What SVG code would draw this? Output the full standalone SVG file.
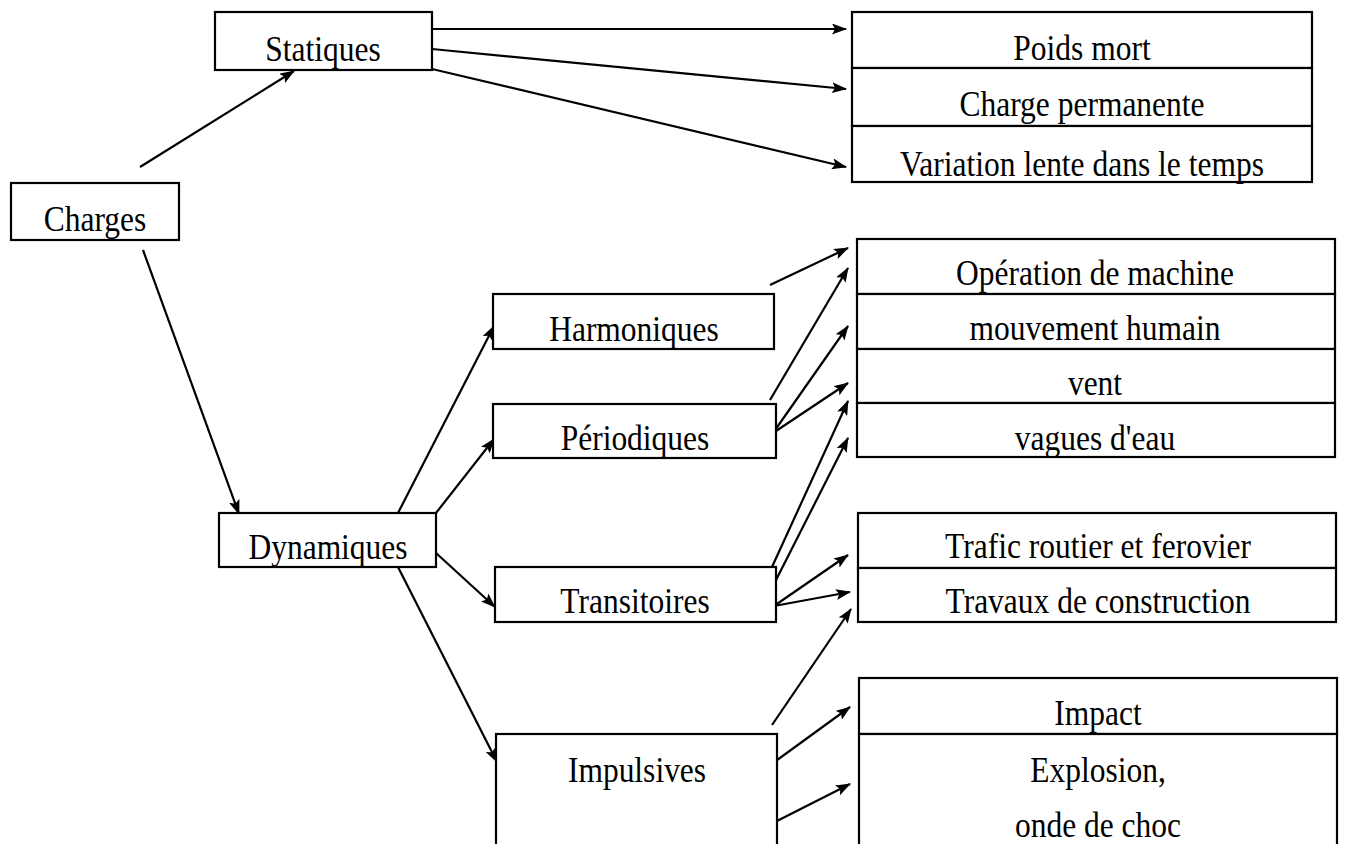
<svg xmlns="http://www.w3.org/2000/svg" width="1346" height="844" viewBox="0 0 1346 844">
<style>
.box{fill:#fff;stroke:#000;stroke-width:2.2}
.t{font-family:"Liberation Serif","Times New Roman",serif;font-size:31.5px;fill:#000;text-anchor:middle}
.c{fill:none;stroke:#000;stroke-width:2.2;marker-end:url(#ah)}
</style>
<defs>
<marker id="ah" markerUnits="userSpaceOnUse" markerWidth="15" markerHeight="11" refX="14" refY="5.5" orient="auto">
<path d="M0,0 L15,5.5 L0,11 L3,5.5 z" fill="#000"/>
</marker>
</defs>
<rect width="1346" height="844" fill="#fff"/>
<g id="connectors">
<line class="c" x1="140" y1="167" x2="294" y2="71"/>
<line class="c" x1="143" y1="250" x2="239" y2="514"/>
<line class="c" x1="432" y1="29" x2="846" y2="29"/>
<line class="c" x1="432" y1="49" x2="846" y2="89"/>
<line class="c" x1="432" y1="69" x2="846" y2="167"/>
<line class="c" x1="398" y1="513" x2="494" y2="326"/>
<line class="c" x1="436" y1="513" x2="494" y2="439"/>
<line class="c" x1="436" y1="553" x2="495" y2="607"/>
<line class="c" x1="398" y1="567" x2="497" y2="762"/>
<line class="c" x1="770" y1="285" x2="848" y2="248"/>
<line class="c" x1="770" y1="400" x2="848" y2="268"/>
<line class="c" x1="773" y1="433" x2="848" y2="326"/>
<line class="c" x1="773" y1="433" x2="848" y2="383"/>
<line class="c" x1="772" y1="567" x2="848" y2="401"/>
<line class="c" x1="775" y1="582" x2="848" y2="438"/>
<line class="c" x1="774" y1="606" x2="848" y2="555"/>
<line class="c" x1="774" y1="606" x2="850" y2="592"/>
<line class="c" x1="772" y1="725" x2="851" y2="609"/>
<line class="c" x1="773" y1="763" x2="850" y2="707"/>
<line class="c" x1="773" y1="823" x2="850" y2="784"/>
</g>
<g id="charges"><rect class="box" x="11" y="183" width="168" height="57"/><text class="t" transform="translate(95,231) scale(1,1.15)">Charges</text></g>
<g id="statiques"><rect class="box" x="215" y="12" width="217" height="58"/><text class="t" transform="translate(323,61) scale(1,1.15)">Statiques</text></g>
<g id="dynamiques"><rect class="box" x="219" y="513" width="217" height="54"/><text class="t" transform="translate(328,559) scale(1,1.15)">Dynamiques</text></g>
<g id="harmoniques"><rect class="box" x="493" y="294" width="281" height="55"/><text class="t" transform="translate(634,341) scale(1,1.15)">Harmoniques</text></g>
<g id="periodiques"><rect class="box" x="493" y="404" width="283" height="54"/><text class="t" transform="translate(635,450) scale(1,1.15)">Périodiques</text></g>
<g id="transitoires"><rect class="box" x="495" y="567" width="281" height="55"/><text class="t" transform="translate(635,613) scale(1,1.15)">Transitoires</text></g>
<g id="impulsives"><rect class="box" x="496" y="734" width="281" height="120"/><text class="t" transform="translate(637,782) scale(1,1.15)">Impulsives</text></g>
<g id="poids-mort"><rect class="box" x="852" y="12" width="460" height="56"/><text class="t" transform="translate(1082,60) scale(1,1.15)">Poids mort</text></g>
<g id="charge-permanente"><rect class="box" x="852" y="68" width="460" height="58"/><text class="t" transform="translate(1082,116) scale(1,1.15)">Charge permanente</text></g>
<g id="variation-lente"><rect class="box" x="852" y="126" width="460" height="56"/><text class="t" transform="translate(1082,176) scale(1,1.15)">Variation lente dans le temps</text></g>
<g id="operation-machine"><rect class="box" x="857" y="239" width="478" height="55"/><text class="t" transform="translate(1095,285) scale(1,1.15)">Opération de machine</text></g>
<g id="mouvement-humain"><rect class="box" x="857" y="294" width="478" height="55"/><text class="t" transform="translate(1095,340) scale(1,1.15)">mouvement humain</text></g>
<g id="vent"><rect class="box" x="857" y="349" width="478" height="54"/><text class="t" transform="translate(1095,395) scale(1,1.15)">vent</text></g>
<g id="vagues"><rect class="box" x="857" y="403" width="478" height="54"/><text class="t" transform="translate(1095,450) scale(1,1.15)">vagues d'eau</text></g>
<g id="trafic"><rect class="box" x="858" y="513" width="478" height="55"/><text class="t" transform="translate(1098,558) scale(1,1.15)">Trafic routier et ferovier</text></g>
<g id="travaux"><rect class="box" x="858" y="568" width="478" height="54"/><text class="t" transform="translate(1098,613) scale(1,1.15)">Travaux de construction</text></g>
<g id="impact"><rect class="box" x="859" y="678" width="478" height="56"/><text class="t" transform="translate(1098,725) scale(1,1.15)">Impact</text></g>
<g id="explosion"><rect class="box" x="859" y="734" width="478" height="120"/><text class="t" transform="translate(1098,782) scale(1,1.15)">Explosion,</text><text class="t" transform="translate(1098,837) scale(1,1.15)">onde de choc</text></g>
</svg>
